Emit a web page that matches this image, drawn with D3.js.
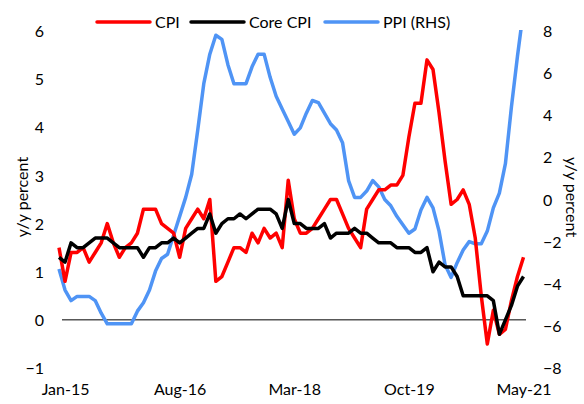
<!DOCTYPE html>
<html>
<head>
<meta charset="utf-8">
<script src="https://cdnjs.cloudflare.com/ajax/libs/d3/7.8.5/d3.min.js"></script>
<style>
body { margin: 0; background: #fff; }
text { font-family: Lato, "Open Sans", sans-serif; fill: #000; }
</style>
</head>
<body>
<script>
// monthly, Dec-14 .. May-21
var cpi = [1.5,
  0.8, 1.4, 1.4, 1.5, 1.2, 1.4, 1.6, 2.0, 1.6, 1.3, 1.5, 1.6,
  1.8, 2.3, 2.3, 2.3, 2.0, 1.9, 1.8, 1.3, 1.9, 2.1, 2.3, 2.1,
  2.5, 0.8, 0.9, 1.2, 1.5, 1.5, 1.4, 1.8, 1.6, 1.9, 1.7, 1.8,
  1.5, 2.9, 2.1, 1.8, 1.8, 1.9, 2.1, 2.3, 2.5, 2.5, 2.2, 1.9,
  1.7, 1.5, 2.3, 2.5, 2.7, 2.7, 2.8, 2.8, 3.0, 3.8, 4.5, 4.5,
  5.4, 5.2, 4.3, 3.3, 2.4, 2.5, 2.7, 2.4, 1.7, 0.5, -0.5, 0.2,
  -0.3, -0.2, 0.4, 0.9, 1.3];

var coreCpi = [1.3,
  1.2, 1.6, 1.5, 1.5, 1.6, 1.7, 1.7, 1.7, 1.6, 1.5, 1.5, 1.5,
  1.5, 1.3, 1.5, 1.5, 1.6, 1.6, 1.7, 1.6, 1.7, 1.8, 1.9, 1.9,
  2.2, 1.8, 2.0, 2.1, 2.1, 2.2, 2.1, 2.2, 2.3, 2.3, 2.3, 2.2,
  1.9, 2.5, 2.0, 2.0, 1.9, 1.9, 1.9, 2.0, 1.7, 1.8, 1.8, 1.8,
  1.9, 1.8, 1.8, 1.7, 1.6, 1.6, 1.6, 1.5, 1.5, 1.5, 1.4, 1.4,
  1.5, 1.0, 1.2, 1.1, 1.1, 0.9, 0.5, 0.5, 0.5, 0.5, 0.5, 0.4,
  -0.3, 0.0, 0.3, 0.7, 0.9];

var ppi = [-3.3,
  -4.3, -4.8, -4.6, -4.6, -4.6, -4.8, -5.4, -5.9, -5.9, -5.9, -5.9, -5.9,
  -5.3, -4.9, -4.3, -3.4, -2.8, -2.6, -1.7, -0.8, 0.1, 1.2, 3.3, 5.5,
  6.9, 7.8, 7.6, 6.4, 5.5, 5.5, 5.5, 6.3, 6.9, 6.9, 5.8, 4.9,
  4.3, 3.7, 3.1, 3.4, 4.1, 4.7, 4.6, 4.1, 3.6, 3.3, 2.7, 0.9,
  0.1, 0.1, 0.4, 0.9, 0.6, 0.0, -0.3, -0.8, -1.2, -1.6, -1.4, -0.5,
  0.1, -0.4, -1.5, -3.1, -3.7, -3.0, -2.4, -2.0, -2.1, -2.1, -1.5, -0.4,
  0.3, 1.7, 4.4, 6.8, 9.0];

var xTickIdx = [1, 20, 39, 58, 77];
var xTickLabels = ["Jan-15", "Aug-16", "Mar-18", "Oct-19", "May-21"];
var leftTicks = [-1, 0, 1, 2, 3, 4, 5, 6];
var rightTicks = [-8, -6, -4, -2, 0, 2, 4, 6, 8];

var w = 584, h = 404;

var svg = d3.select("body").append("svg")
  .attr("width", w)
  .attr("height", h);

var x = d3.scaleLinear().domain([0, cpi.length - 1]).range([59, 523.5]);
var yL = d3.scaleLinear().domain([-1, 6]).range([368, 31]);
var yR = d3.scaleLinear().domain([-8, 8]).range([368, 31]);

svg.append("defs").append("clipPath")
  .attr("id", "plot")
  .append("rect")
  .attr("x", 0)
  .attr("y", yR(8) - 1)
  .attr("width", w)
  .attr("height", yR(-8) - yR(8) + 2);

// zero line
svg.append("line")
  .attr("x1", 62).attr("x2", 526)
  .attr("y1", yL(0)).attr("y2", yL(0))
  .attr("stroke", "#000")
  .attr("stroke-width", 1);

// axes
var left = svg.append("g")
  .attr("transform", "translate(44,0)")
  .call(d3.axisLeft(yL).tickValues(leftTicks).tickSize(0).tickPadding(0).tickFormat(d3.format("d")));
var right = svg.append("g")
  .attr("transform", "translate(543,0)")
  .call(d3.axisRight(yR).tickValues(rightTicks).tickSize(0).tickPadding(0).tickFormat(d3.format("d")));
var bottom = svg.append("g")
  .attr("transform", "translate(0,384)")
  .call(d3.axisBottom(x).tickValues(xTickIdx).tickSize(0).tickPadding(0)
    .tickFormat(function(d, i) { return xTickLabels[i]; }));

[left, right, bottom].forEach(function(g) {
  g.select(".domain").remove();
  g.selectAll("text").style("font-size", "16px").style("font-family", "Lato, sans-serif").attr("fill", "#000");
});
left.selectAll("text").attr("dy", "0.35em");
right.selectAll("text").attr("dy", "0.35em");
bottom.selectAll("text").attr("dy", "0.71em");

// axis titles
svg.append("text")
  .attr("transform", "translate(22,197) rotate(-90)")
  .attr("text-anchor", "middle")
  .attr("dy", "0.35em")
  .style("font-size", "16px")
  .text("y/y percent");
svg.append("text")
  .attr("transform", "translate(572,197) rotate(90)")
  .attr("text-anchor", "middle")
  .attr("dy", "0.35em")
  .style("font-size", "16px")
  .text("y/y percent");

// series
var lineL = d3.line().x(function(d, i) { return x(i); }).y(function(d) { return yL(d); });
var lineR = d3.line().x(function(d, i) { return x(i); }).y(function(d) { return yR(d); });

var plot = svg.append("g").attr("clip-path", "url(#plot)");

plot.append("path").datum(ppi)
  .attr("d", lineR)
  .attr("fill", "none")
  .attr("stroke", "#4f94f5")
  .attr("stroke-width", 3.5)
  .attr("stroke-linejoin", "round");

plot.append("path").datum(cpi)
  .attr("d", lineL)
  .attr("fill", "none")
  .attr("stroke", "#ff0000")
  .attr("stroke-width", 3.5)
  .attr("stroke-linejoin", "round");

plot.append("path").datum(coreCpi)
  .attr("d", lineL)
  .attr("fill", "none")
  .attr("stroke", "#000")
  .attr("stroke-width", 3.5)
  .attr("stroke-linejoin", "round");

// legend
var legendItems = [
  {name: "CPI", color: "#ff0000", x: 97},
  {name: "Core CPI", color: "#000", x: 191},
  {name: "PPI (RHS)", color: "#4f94f5", x: 325}
];
var lg = svg.append("g").selectAll("g").data(legendItems).enter().append("g")
  .attr("transform", function(d) { return "translate(" + d.x + ",22)"; });
lg.append("line")
  .attr("x1", 0).attr("x2", 53)
  .attr("stroke", function(d) { return d.color; })
  .attr("stroke-width", 3.5)
  .attr("stroke-linecap", "round");
lg.append("text")
  .attr("x", 58)
  .attr("dy", "0.35em")
  .style("font-size", "16px")
  .text(function(d) { return d.name; });
</script>
</body>
</html>
